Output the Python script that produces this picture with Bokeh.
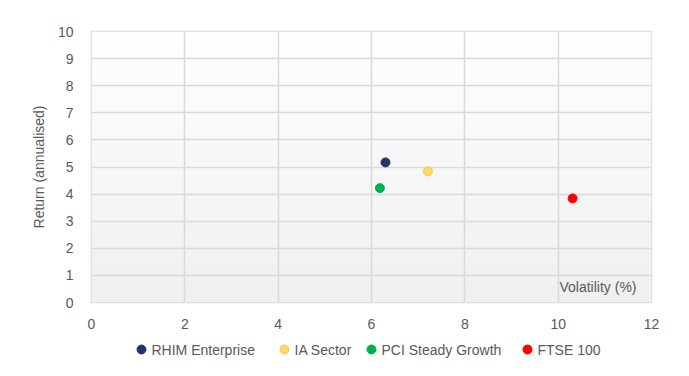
import numpy as np
from bokeh.plotting import figure
from bokeh.layouts import column
from bokeh.models import Label, FixedTicker, ColumnDataSource
from bokeh.core.properties import value
from bokeh.embed import file_html
from bokeh.resources import INLINE

names = ["RHIM Enterprise", "IA Sector", "PCI Steady Growth", "FTSE 100"]
volatility = [6.3, 7.21, 6.18, 10.31]
returns = [5.17, 4.84, 4.22, 3.84]
colors = ["#1f3864", "#ffd966", "#00b050", "#ff0000"]
outlines = ["#1f3864", "#f4c060", "#00b050", "#ff0000"]
x_ticks = [0, 2, 4, 6, 8, 10, 12]
y_ticks = [0, 1, 2, 3, 4, 5, 6, 7, 8, 9, 10]

FONT = "Liberation Sans"
TXT = "#595959"

p = figure(frame_width=560, frame_height=271, output_backend="svg", toolbar_location=None,
           x_range=(0, 12), y_range=(0, 10),
           min_border_left=91, min_border_right=38, min_border_top=31, min_border_bottom=33)

# gradient plot background
grad = np.linspace(240, 255, 64).astype(np.uint8)
img = np.zeros((64, 2), dtype=np.uint32)
view = img.view(dtype=np.uint8).reshape((64, 2, 4))
for i in range(64):
    view[i, :, 0] = grad[i]
    view[i, :, 1] = grad[i]
    view[i, :, 2] = grad[i]
    view[i, :, 3] = 255
p.image_rgba(image=[img], x=0, y=0, dw=12, dh=10, level="image")

p.outline_line_color = "#d9d9d9"
p.outline_line_width = 1.5
p.xgrid.grid_line_color = "#d9d9d9"
p.ygrid.grid_line_color = "#d9d9d9"
p.xgrid.grid_line_width = 1.5
p.ygrid.grid_line_width = 1.5

p.xaxis.ticker = FixedTicker(ticks=x_ticks)
p.yaxis.ticker = FixedTicker(ticks=y_ticks)
for ax in (p.xaxis, p.yaxis):
    ax.axis_line_color = None
    ax.major_tick_line_color = None
    ax.minor_tick_line_color = None
    ax.major_label_text_font = FONT
    ax.major_label_text_font_size = "14px"
    ax.major_label_text_color = TXT
p.xaxis.major_label_standoff = 10
p.yaxis.major_label_standoff = 12
p.yaxis.axis_label = "Return (annualised)"
p.yaxis.axis_label_text_font = FONT
p.yaxis.axis_label_text_font_size = "14px"
p.yaxis.axis_label_text_font_style = "normal"
p.yaxis.axis_label_text_color = TXT
p.yaxis.axis_label_standoff = 8

src = ColumnDataSource(dict(x=volatility, y=returns, fill=colors, line=outlines))
p.scatter("x", "y", source=src, size=9, fill_color="fill", line_color="line", line_width=1)

lab = Label(x=12, y=0, x_offset=-15, y_offset=8, text="Volatility (%)",
            text_align="right", text_baseline="bottom", text_font=FONT,
            text_font_size="14px", text_color=TXT)
p.add_layout(lab)

# legend strip below the chart (layout positions in page pixels;
# the column aligns this strip's frame with the chart frame, 91..651 px)
legend_marker_x = [141, 284, 371, 527]
legend_text_x = [151, 294, 381, 537]
lg = figure(width=689, height=40, output_backend="svg", toolbar_location=None,
            x_range=(91, 651), y_range=(0, 40), min_border=0)
lg.axis.visible = False
lg.grid.visible = False
lg.outline_line_color = None
lsrc = ColumnDataSource(dict(mx=legend_marker_x, tx=legend_text_x, y=[26] * 4,
                             name=names, fill=colors, line=outlines))
lg.scatter("mx", "y", source=lsrc, size=9, fill_color="fill", line_color="line", line_width=1)
lg.text("tx", "y", text="name", source=lsrc, text_baseline="middle", text_align="left",
        text_font=value(FONT), text_font_size="14px", text_color=TXT)

layout = column(p, lg, spacing=0)
open("out.html", "w").write(file_html(layout, INLINE))
